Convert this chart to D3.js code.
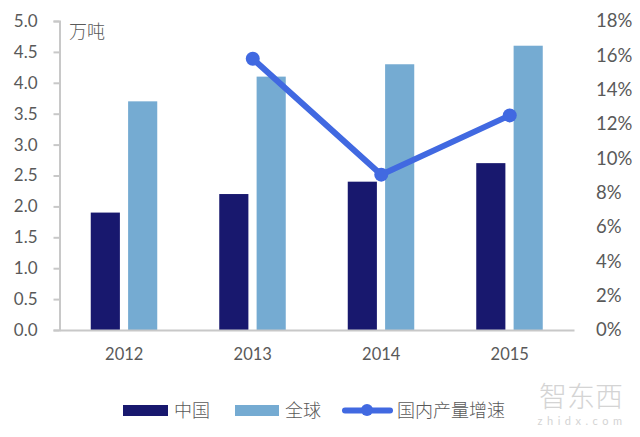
<!DOCTYPE html>
<html>
<head>
<meta charset="utf-8">
<script src="https://cdn.jsdelivr.net/npm/d3@7"></script>
<style>
  body { margin: 0; background: #fff; }
  text { font-family: Lato, "Noto Sans CJK SC", sans-serif; fill: #595959; }
  .cjk { font-family: "Noto Sans CJK SC", sans-serif; font-weight: 300; }
</style>
</head>
<body>
<svg id="chart" width="640" height="437"></svg>
<script>
var years = ["2012", "2013", "2014", "2015"];
var china = [1.9, 2.2, 2.4, 2.7];
var world = [3.7, 4.1, 4.3, 4.6];
var growth = [null, 15.8, 9.05, 12.5];
var leftTicks = [0, 0.5, 1, 1.5, 2, 2.5, 3, 3.5, 4, 4.5, 5];
var rightTicks = [0, 2, 4, 6, 8, 10, 12, 14, 16, 18];
var names = ["中国", "全球", "国内产量增速"];

var navy = "#18186e", blue = "#75abd2", line = "#4169e1", grey = "#c8c8c8";

var svg = d3.select("#chart");

var x = d3.scaleBand().domain(years).range([60, 574]);
var inner = d3.scaleBand().domain(["china", "world"]).range([-33.5, 33]).paddingInner(0.22);
var yLeft = d3.scaleLinear().domain([0, 5]).range([330, 21]);
var yRight = d3.scaleLinear().domain([0, 18]).range([330, 21]);

function drawBars(values, key, color) {
  svg.append("g").selectAll("rect").data(values).enter().append("rect")
    .attr("x", function(d, i) { return x(years[i]) + x.bandwidth() / 2 + inner(key); })
    .attr("y", function(d) { return yLeft(d); })
    .attr("width", inner.bandwidth())
    .attr("height", function(d) { return yLeft(0) - yLeft(d); })
    .attr("fill", color);
}
drawBars(china, "china", navy);
drawBars(world, "world", blue);

// axes
var left = svg.append("g").attr("transform", "translate(59.5,0)")
  .call(d3.axisLeft(yLeft).tickValues(leftTicks).tickFormat(d3.format(".1f")).tickSize(6).tickSizeOuter(6));
var right = svg.append("g").attr("transform", "translate(574,0)")
  .call(d3.axisRight(yRight).tickValues(rightTicks).tickFormat(function(d) { return d + "%"; }).tickSize(0));
var bottom = svg.append("g").attr("transform", "translate(0,330)")
  .call(d3.axisBottom(x).tickSize(0));

left.selectAll("path, line").attr("stroke", grey).attr("stroke-width", 2);
right.select("path").remove();
bottom.select("path").attr("stroke", grey).attr("stroke-width", 2);
left.selectAll("text").attr("x", -22).attr("font-size", 17);
right.selectAll("text").attr("x", 22).attr("font-size", 18.5);
bottom.selectAll("text").attr("y", 18).attr("font-size", 16.5);
svg.selectAll(".domain").attr("fill", "none");

// growth line
var lineGen = d3.line()
  .defined(function(d) { return d !== null; })
  .x(function(d, i) { return x(years[i]) + x.bandwidth() / 2; })
  .y(function(d) { return yRight(d); });

svg.append("path").datum(growth)
  .attr("d", lineGen)
  .attr("fill", "none")
  .attr("stroke", line)
  .attr("stroke-width", 6);

svg.append("g").selectAll("circle")
  .data(growth.map(function(d, i) { return {v: d, year: years[i]}; }).filter(function(d) { return d.v !== null; }))
  .enter().append("circle")
  .attr("cx", function(d) { return x(d.year) + x.bandwidth() / 2; })
  .attr("cy", function(d) { return yRight(d.v); })
  .attr("r", 7)
  .attr("fill", line);

// unit label
svg.append("text").attr("class", "cjk").attr("x", 69).attr("y", 38).attr("font-size", 18).text("万吨");

// legend
var legend = svg.append("g");
legend.append("rect").attr("x", 123).attr("y", 405).attr("width", 45).attr("height", 11).attr("fill", navy);
legend.append("text").attr("class", "cjk").attr("x", 174).attr("y", 417).attr("font-size", 18).text(names[0]);
legend.append("rect").attr("x", 235).attr("y", 405).attr("width", 44).attr("height", 11).attr("fill", blue);
legend.append("text").attr("class", "cjk").attr("x", 285).attr("y", 417).attr("font-size", 18).text(names[1]);
legend.append("line").attr("x1", 345).attr("x2", 390).attr("y1", 410.5).attr("y2", 410.5)
  .attr("stroke", line).attr("stroke-width", 6).attr("stroke-linecap", "round");
legend.append("circle").attr("cx", 367).attr("cy", 410).attr("r", 6).attr("fill", line);
legend.append("text").attr("class", "cjk").attr("x", 397).attr("y", 417).attr("font-size", 18).text(names[2]);

// watermark
svg.append("text").attr("class", "cjk").attr("x", 581).attr("y", 407).attr("font-size", 28)
  .attr("text-anchor", "middle").style("fill", "#d4d4d4").text("智东西");
svg.append("text").attr("x", 582).attr("y", 425).attr("font-size", 11)
  .attr("text-anchor", "middle").attr("letter-spacing", 4.5).style("fill", "#d4d4d4").text("zhidx.com");
</script>
</body>
</html>
